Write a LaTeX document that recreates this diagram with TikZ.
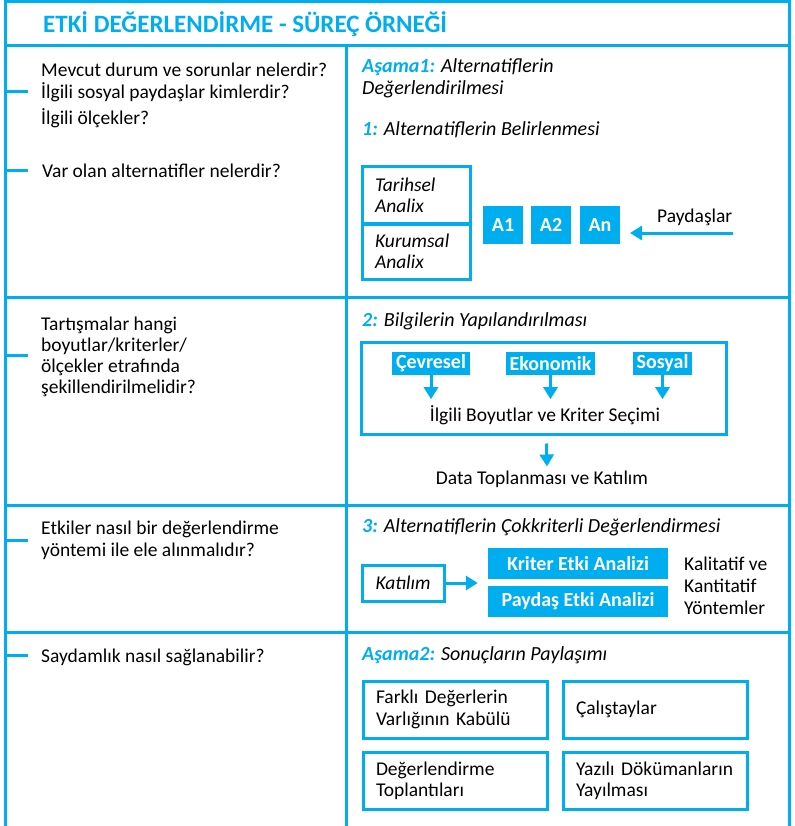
\documentclass[tikz,border=0pt]{standalone}
\usepackage{fontspec}
\setmainfont{Carlito}
\usetikzlibrary{arrows.meta}
\definecolor{skyblue}{RGB}{0,174,239}
\tikzset{
  frame/.style={draw=skyblue, line width=3pt},
  txt/.style={anchor=west, align=left, inner sep=0pt, font=\fontsize{19.5}{21.5}\selectfont},
  ttl/.style={txt, font=\fontsize{20}{22}\selectfont\itshape},
  outbox/.style={draw=skyblue, line width=3pt, inner sep=0pt},
  textbox/.style={outbox, inner xsep=13pt, align=left, font=\fontsize{19.5}{21.5}\selectfont},
  bluebox/.style={fill=skyblue, text=white, inner sep=0pt, font=\fontsize{20}{22}\selectfont\bfseries},
  blarrow/.style={draw=skyblue, line width=3pt, -{Triangle[width=14pt,length=12pt]}}
}
\newcommand{\hl}[1]{{\color{skyblue}\bfseries #1}}
\begin{document}
\begin{tikzpicture}[x=1pt,y=-1pt]
      \useasboundingbox (0,0) rectangle (794,826);
      \begin{scope}[frame]
        \draw (5,826) -- (5,2) -- (789,2) -- (789,826);
        \draw (5,46) -- (789,46);
        \draw (346,46) -- (346,826);
        \draw (5,297) -- (789,297);
        \draw (5,505) -- (789,505);
        \draw (5,632) -- (789,632);
        \draw (5,92) -- (28,92);
        \draw (5,171) -- (28,171);
        \draw (5,355) -- (28,355);
        \draw (5,540) -- (28,540);
        \draw (5,655) -- (28,655);
      \end{scope}
      \node[txt, text=skyblue, font=\fontsize{25}{28}\selectfont\bfseries] (title) at (43,24) {ETKİ DEĞERLENDİRME - SÜREÇ ÖRNEĞİ};

      \node[txt] (q1) at (41,82.5) {Mevcut durum ve sorunlar nelerdir?\\İlgili sosyal paydaşlar kimlerdir?};
      \node[txt] (q2) at (41,118) {İlgili ölçekler?};
      \node[txt] (q3) at (42,171) {Var olan alternatifler nelerdir?};
      \node[txt, font=\fontsize{19.5}{21}\selectfont] (q4) at (41,356.5) {Tartışmalar hangi\\boyutlar/kriterler/\\ölçekler etrafında\\şekillendirilmelidir?};
      \node[txt] (q5) at (41,540.5) {Etkiler nasıl bir değerlendirme\\yöntemi ile ele alınmalıdır?};
      \node[txt] (q6) at (41,657) {Saydamlık nasıl sağlanabilir?};

      \node[ttl] (stage1) at (362,78) {\hl{Aşama1:} Alternatiflerin\\Değerlendirilmesi};
      \node[ttl] (step1) at (362,130) {\hl{1:} Alternatiflerin Belirlenmesi};
      \node[textbox, text width=82pt, minimum height=57pt, font=\fontsize{19.5}{21}\selectfont\itshape] (tar) at (416,195.5) {Tarihsel\\Analix};
      \node[textbox, text width=82pt, minimum height=55pt, font=\fontsize{19.5}{21}\selectfont\itshape] (kur) at (416,251.5) {Kurumsal\\Analix};
      \node[bluebox, minimum width=40pt, minimum height=38pt] (a1) at (503,225) {A1};
      \node[bluebox, minimum width=40pt, minimum height=38pt] (a2) at (551,225) {A2};
      \node[bluebox, minimum width=40pt, minimum height=38pt] (an) at (600,225) {An};
      \node[txt] (payd) at (657,217) {Paydaşlar};
      \coordinate (paytail) at (733,233);
      \coordinate (paytip) at (630,233);
      \draw[blarrow] (paytail) -- (paytip);

      \node[ttl] (step2) at (362,321) {\hl{2:} Bilgilerin Yapılandırılması};
      \node[outbox, minimum width=365pt, minimum height=92pt] (dim) at (543.5,388) {};
      \node[bluebox, inner xsep=4pt, minimum height=23pt] (cev) at (431,363.5) {Çevresel};
      \node[bluebox, inner xsep=4pt, minimum height=23pt] (eko) at (550.5,363.5) {Ekonomik};
      \node[bluebox, inner xsep=4pt, minimum height=23pt] (sos) at (662.5,363.5) {Sosyal};
      \node[txt, anchor=center] (crit) at (545,415) {İlgili Boyutlar ve Kriter Seçimi};
      \node[txt, anchor=center] (data) at (542,479) {Data Toplanması ve Katılım};
      \begin{scope}[blarrow]
        \draw (cev.south) -- ++(0,24);
        \draw (eko.south) -- ++(0,24);
        \draw (sos.south) -- ++(0,24);
        \draw ([xshift=3pt,yshift=-8pt]dim.south) -- ([xshift=5pt,yshift=4pt]data.north);
      \end{scope}

      \node[ttl] (step3) at (362,527) {\hl{3:} Alternatiflerin Çokkriterli Değerlendirmesi};
      \node[outbox, minimum width=82pt, minimum height=36pt, font=\fontsize{19.5}{21}\selectfont\itshape] (kat) at (403,583) {Katılım};
      \node[bluebox, minimum width=180pt, minimum height=31pt] (kriter) at (578,563.5) {Kriter Etki Analizi};
      \node[bluebox, minimum width=180pt, minimum height=31pt] (paydas) at (578,601.5) {Paydaş Etki Analizi};
      \node[txt, font=\fontsize{19.5}{22}\selectfont] (method) at (684,585.5) {Kalitatif ve\\Kantitatif\\Yöntemler};
      \draw[blarrow, shorten >=10pt] (kat.east) -- (kat.east -| kriter.west);

      \node[ttl] (stage2) at (362,655) {\hl{Aşama2:} Sonuçların Paylaşımı};
      \node[textbox, text width=158pt, minimum height=57pt] (farkli) at (455,709.5) {Farklı Değerlerin\\Varlığının Kabülü};
      \node[textbox, text width=158pt, minimum height=57pt] (calis) at (655,709.5) {Çalıştaylar};
      \node[textbox, text width=158pt, minimum height=57pt] (toplanti) at (455,781) {Değerlendirme\\Toplantıları};
      \node[textbox, text width=158pt, minimum height=57pt] (yazili) at (655,781) {Yazılı Dökümanların\\Yayılması};
    \end{tikzpicture}
\end{document}
